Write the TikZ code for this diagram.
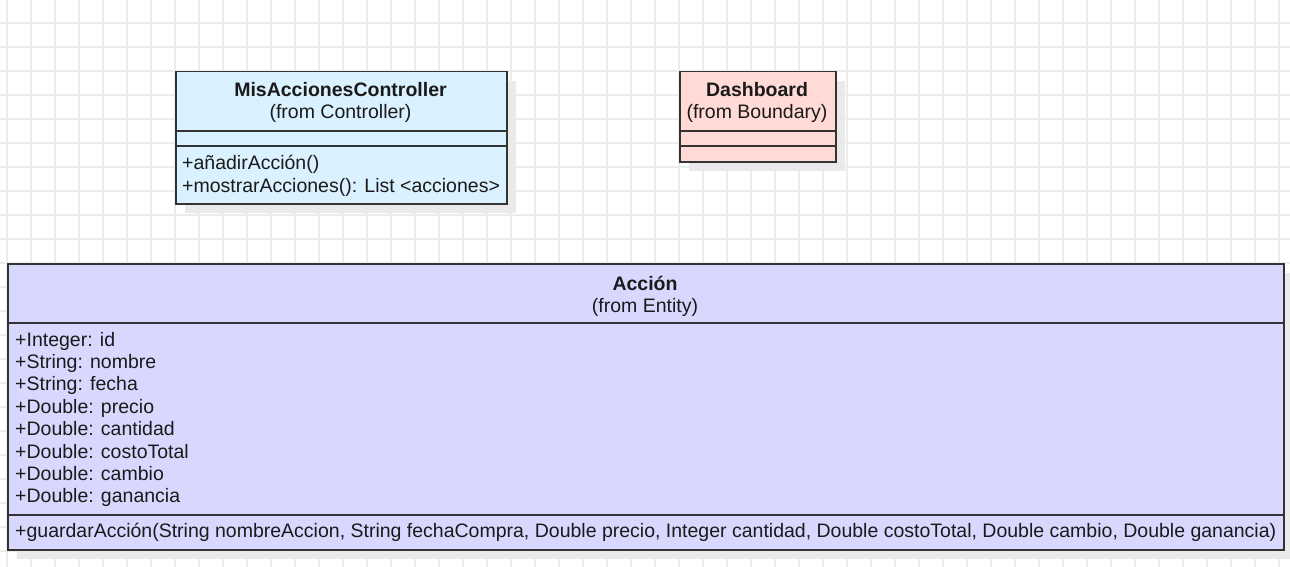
\documentclass[tikz,border=0pt]{standalone}
\usepackage{fontspec}
\setmainfont{Liberation Sans}
\definecolor{gridc}{RGB}{236,236,236}
\definecolor{shadowc}{RGB}{234,234,234}
\definecolor{linec}{RGB}{51,51,51}
\definecolor{textc}{RGB}{26,26,26}
\definecolor{ctrlc}{RGB}{218,241,255}
\definecolor{dashc}{RGB}{255,218,214}
\definecolor{entc}{RGB}{216,216,255}
\begin{document}
\begin{tikzpicture}[x=1pt,y=-1pt,
  classbox/.style={draw=linec, line width=1.5pt, anchor=north west, inner sep=0pt},
  divider/.style={draw=linec, line width=1.5pt},
  shadowfill/.style={fill=shadowc},
  txt/.style={font=\fontsize{19.5}{23}\selectfont, text=textc, inner sep=0pt},
  ttl/.style={txt, font=\fontsize{19.5}{23}\selectfont\bfseries, anchor=base},
  sub/.style={txt, anchor=base},
  member/.style={txt, anchor=base west},
]
\useasboundingbox (0,0) rectangle (1290,567);
\fill[white] (0,0) rectangle (1290,567);
% grid
\foreach \gx in {7,31,...,1290} \draw[gridc, line width=1.2pt] (\gx,0) -- (\gx,567);
\foreach \gy in {-1,23,...,567} \draw[gridc, line width=1.2pt] (0,\gy) -- (1290,\gy);

% shadows
\fill[shadowfill] (185,81) rectangle (516,213);
\fill[shadowfill] (689,81) rectangle (845,171);
\fill[shadowfill] (17,273) rectangle (1293,559);

% MisAccionesController
\node[classbox, fill=ctrlc, minimum width=331pt, minimum height=132pt] (ctrl) at (175,71) {};
\draw[divider] (175,131) -- (506,131);
\draw[divider] (175,146) -- (506,146);
\node[ttl] (ctrlname) at (340.5,96.5) {MisAccionesController};
\node[sub] (ctrlfrom) at (340.5,118.5) {(from Controller)};
\node[member] (ctrlm1) at (182,169.5) {+añadirAcción()};
\node[member] (ctrlm2) at (182,192) {+mostrarAcciones(): List <acciones>};

% Dashboard
\node[classbox, fill=dashc, minimum width=156pt, minimum height=90pt] (dash) at (679,71) {};
\draw[divider] (679,131) -- (835,131);
\draw[divider] (679,146) -- (835,146);
\node[ttl] (dashname) at (757,96.5) {Dashboard};
\node[sub] (dashfrom) at (757,118.5) {(from Boundary)};

% Accion
\node[classbox, fill=entc, minimum width=1276pt, minimum height=286pt] (ent) at (7,263) {};
\draw[divider] (7,323) -- (1283,323);
\draw[divider] (7,515) -- (1283,515);
\node[ttl] (entname) at (645,290) {Acción};
\node[sub] (entfrom) at (645,312.5) {(from Entity)};
\node[member] (a1) at (15,346) {+Integer: id};
\node[member] (a2) at (15,368.4) {+String: nombre};
\node[member] (a3) at (15,390.8) {+String: fecha};
\node[member] (a4) at (15,413.2) {+Double: precio};
\node[member] (a5) at (15,435.6) {+Double: cantidad};
\node[member] (a6) at (15,458) {+Double: costoTotal};
\node[member] (a7) at (15,480.4) {+Double: cambio};
\node[member] (a8) at (15,502.8) {+Double: ganancia};
\node[member] (m1) at (15,537) {+guardarAcción(String nombreAccion, String fechaCompra, Double precio, Integer cantidad, Double costoTotal, Double cambio, Double ganancia)};
\end{tikzpicture}
\end{document}
